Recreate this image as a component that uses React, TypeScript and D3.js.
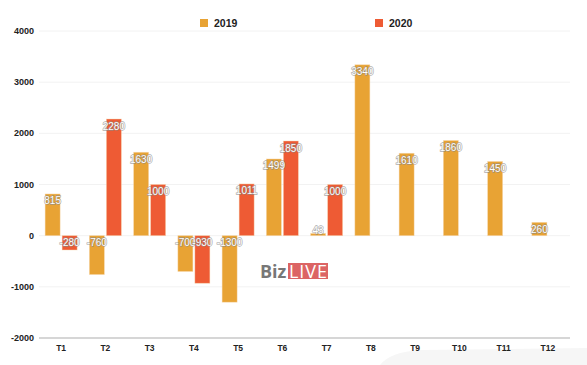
import React from "react";
import * as d3 from "d3";

const months = ["T1","T2","T3","T4","T5","T6","T7","T8","T9","T10","T11","T12"];
const series = ["2019", "2020"];
const values2019: (number | null)[] = [815, -760, 1630, -700, -1300, 1499, 43, 3340, 1610, 1860, 1450, 260];
const values2020: (number | null)[] = [-280, 2280, 1000, -930, 1011, 1850, 1000, null, null, null, null, null];
const yTicks = [-2000, -1000, 0, 1000, 2000, 3000, 4000];
const colors = ["#E8A334", "#EE5B34"];

const W = 587, H = 365;
const left = 39, right = 570, top = 31, bottom = 338;

export default function App() {
  const x = d3.scaleBand<string>().domain(months).range([left, right]).padding(0);
  const bw = x.bandwidth();
  const xs = d3.scaleBand<string>().domain(series).range([bw / 2 - 16, bw / 2 + 16]).paddingInner(0.118).paddingOuter(0);
  const y = d3.scaleLinear().domain([-2000, 4000]).range([bottom, top]);
  const data = [values2019, values2020];
  const font = "'Liberation Sans', Arial, Helvetica, sans-serif";

  return (
    <svg width={W} height={H} style={{ position: "absolute", left: 0, top: 0, background: "#fff" }} fontFamily={font}>
      <path d={`M380,${H} Q390,352 420,350 L587,348 L587,${H} Z`} fill="#f6f6f6" />
      {yTicks.map((t) => (
        <g key={t}>
          {t !== -2000 && <line x1={left} x2={right} y1={y(t)} y2={y(t)} stroke="#f2f2f2" strokeWidth={1} />}
          <text x={34} y={y(t)} dy="0.35em" textAnchor="end" fontSize={9} fontWeight="bold" fill="#222">{t}</text>
        </g>
      ))}
      <line x1={left} x2={right} y1={bottom} y2={bottom} stroke="#c8c8c8" strokeWidth={1.5} />
      {months.map((m) => (
        <text key={m} x={(x(m) as number) + bw / 2} y={348} dy="0.35em" textAnchor="middle" fontSize={8.5} fontWeight="bold" fill="#222">{m}</text>
      ))}
      <g>
        <text x={260} y={278} fontSize={18} fill="#777" fontFamily="'Open Sans', sans-serif" fontWeight="bold">Biz</text>
        <rect x={288} y={263} width={40} height={16} fill="#DC6464" />
        <text x={289} y={278} fontSize={18} fill="#fff" fontFamily="'Open Sans', sans-serif" textLength={38}>LIVE</text>
      </g>
      {series.map((s, si) => data[si].map((v, i) => {
        if (v === null) return null;
        const bx = (x(months[i]) as number) + (xs(s) as number);
        const y0 = y(Math.max(0, v));
        const y1 = y(Math.min(0, v));
        const h = Math.max(1, y1 - y0);
        return (
          <rect key={s + i} x={bx} y={y0} width={xs.bandwidth()} height={h} fill={colors[si]} stroke="#f7d9b0" strokeOpacity={0.6} strokeWidth={0.7} />
        );
      }))}
      {series.map((s, si) => data[si].map((v, i) => {
        if (v === null) return null;
        const bx = (x(months[i]) as number) + (xs(s) as number) + xs.bandwidth() / 2;
        const ty = y(Math.max(0, v)) + (v > 0 && v < 200 ? -3 : 7);
        return (
          <text key={"l" + s + i} x={bx} y={ty} dy="0.35em" textAnchor="middle" fontSize={10} fill="#fff" stroke="#888" strokeWidth={1.3} strokeOpacity={0.7} style={{ paintOrder: "stroke" }}>{v}</text>
        );
      }))}
      {series.map((s, si) => {
        const lx = si === 0 ? 200 : 375;
        return (
          <g key={"lg" + s}>
            <rect x={lx} y={19} width={8} height={8} fill={colors[si]} />
            <text x={lx + 14} y={23} dy="0.35em" fontSize={10.5} fontWeight="bold" fill="#222">{s}</text>
          </g>
        );
      })}
    </svg>
  );
}
